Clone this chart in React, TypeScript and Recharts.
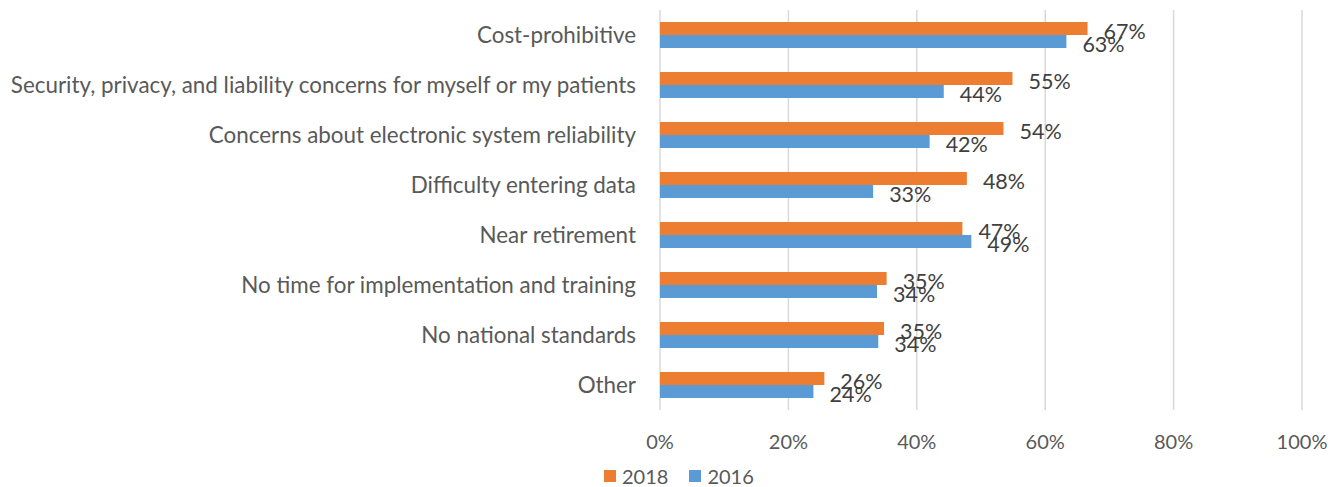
import React from "react";
import { BarChart, Bar, XAxis, YAxis, CartesianGrid, LabelList } from "recharts";

const categories = [
  "Cost-prohibitive",
  "Security, privacy, and liability concerns for myself or my patients",
  "Concerns about electronic system reliability",
  "Difficulty entering data",
  "Near retirement",
  "No time for implementation and training",
  "No national standards",
  "Other",
];
const values2018 = [66.6, 54.9, 53.5, 47.8, 47.1, 35.3, 34.9, 25.6];
const values2016 = [63.3, 44.2, 42.0, 33.2, 48.5, 33.8, 34.0, 23.9];
const xTicks = [0, 20, 40, 60, 80, 100];
const seriesNames = ["2018", "2016"];
const colors = ["#ED7D31", "#5B9BD5"];

const data = categories.map((name, i) => ({
  name,
  y2018: values2018[i],
  y2016: values2016[i],
}));

const FONT = "Lato, 'Open Sans', sans-serif";

const LegendBox = () => (
  <div
    style={{
      position: "absolute",
      left: 604,
      top: 464,
      display: "flex",
      alignItems: "center",
      fontFamily: FONT,
      fontSize: 20,
      color: "#595959",
    }}
  >
    {seriesNames.map((n, i) => (
      <div key={n} style={{ display: "flex", alignItems: "center", marginRight: 21 }}>
        <div style={{ width: 12, height: 12, background: colors[i], marginRight: 6 }} />
        <span>{n}</span>
      </div>
    ))}
  </div>
);

export default function App() {
  return (
    <div style={{ position: "relative", width: 1342, height: 487, background: "#fff" }}>
      <style>{`body{margin:0;}`}</style>
      <BarChart
        width={1342}
        height={487}
        data={data}
        layout="vertical"
        margin={{ top: 10, right: 40, bottom: 0, left: 0 }}
        barCategoryGap="24%"
        barGap={0}
      >
        <CartesianGrid horizontal={false} stroke="#D9D9D9" strokeWidth={1.5} />
        <XAxis
          type="number"
          domain={[0, 100]}
          ticks={xTicks}
          tickFormatter={(v) => `${v}%`}
          axisLine={false}
          tickLine={false}
          tickSize={0}
          tickMargin={25}
          tick={{ fontFamily: FONT, fontSize: 20, fill: "#595959" }}
          height={77}
          interval={0}
        />
        <YAxis
          type="category"
          dataKey="name"
          width={660}
          axisLine={false}
          tickLine={false}
          tickSize={0}
          tickMargin={24}
          interval={0}
          tick={{ fontFamily: FONT, fontSize: 22.4, fill: "#595959" }}
        />
        <Bar dataKey="y2018" fill={colors[0]} isAnimationActive={false}>
          <LabelList
            dataKey="y2018"
            position="right"
            offset={16}
            dy={3}
            formatter={(v: number) => `${Math.round(v)}%`}
            style={{ fontFamily: FONT, fontSize: 21.5, fill: "#404040" }}
          />
        </Bar>
        <Bar dataKey="y2016" fill={colors[1]} isAnimationActive={false}>
          <LabelList
            dataKey="y2016"
            position="right"
            offset={16}
            dy={3}
            formatter={(v: number) => `${Math.round(v)}%`}
            style={{ fontFamily: FONT, fontSize: 21.5, fill: "#404040" }}
          />
        </Bar>
      </BarChart>
      <LegendBox />
    </div>
  );
}
